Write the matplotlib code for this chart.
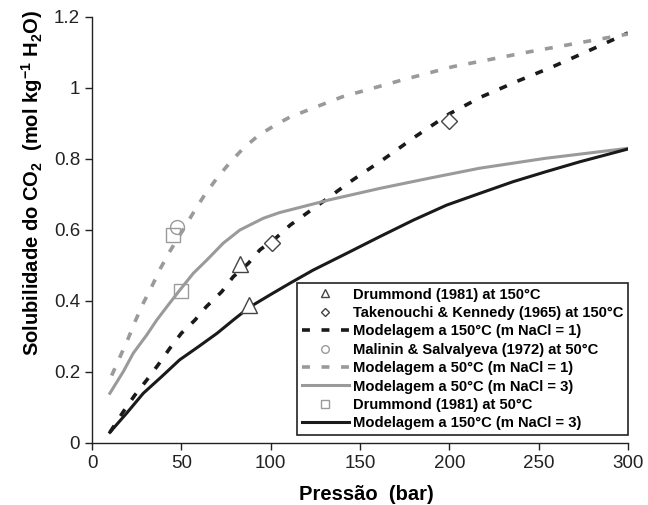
import matplotlib.pyplot as plt
from matplotlib.ticker import FormatStrFormatter

plt.rcParams['font.family'] = ['Liberation Sans', 'DejaVu Sans']
plt.rcParams['mathtext.fontset'] = 'custom'
plt.rcParams['mathtext.rm'] = 'Liberation Sans:bold'
plt.rcParams['mathtext.default'] = 'rm'

# curvas do modelo
p_50_n1 = [11, 15.7, 20.3, 24.1, 28.7, 33.4, 38.1, 43.6, 52, 57.6, 63.2, 69.8, 77.2, 84.7,
           93.1, 102.4, 110.8, 140, 174, 202, 245, 300]
s_50_n1 = [0.19, 0.243, 0.295, 0.342, 0.394, 0.44, 0.49, 0.54, 0.609, 0.656, 0.70, 0.745,
           0.79, 0.83, 0.866, 0.895, 0.918, 0.975, 1.023, 1.06, 1.102, 1.152]

p_50_n3 = [10, 17.5, 23.1, 30.6, 36.2, 42.7, 49.2, 56.7, 64.2, 73.5, 82.8, 95.9, 105,
           133, 161, 189, 217, 254, 300]
s_50_n3 = [0.14, 0.201, 0.253, 0.304, 0.346, 0.389, 0.431, 0.478, 0.515, 0.563, 0.60, 0.633,
           0.649, 0.685, 0.717, 0.746, 0.774, 0.802, 0.83]

p_150_n1 = [10, 17.5, 24, 30.6, 37, 43.6, 50, 57.6, 64, 72.6, 79, 87.5, 94, 103.3, 111,
            128.5, 146, 164, 181, 200, 218, 237.6, 258, 276.8, 300]
s_150_n1 = [0.03, 0.088, 0.135, 0.177, 0.22, 0.267, 0.309, 0.346, 0.384, 0.426, 0.468, 0.506,
            0.544, 0.579, 0.614, 0.677, 0.741, 0.802, 0.863, 0.927, 0.975, 1.018, 1.06,
            1.102, 1.155]

p_150_n3 = [10, 19.4, 28.7, 39, 49, 59.5, 70, 79, 88, 99.6, 110.8, 123.8, 142.5, 161, 180,
            198.5, 217, 235.7, 254, 273, 300]
s_150_n3 = [0.03, 0.084, 0.14, 0.187, 0.234, 0.271, 0.309, 0.346, 0.382, 0.417, 0.45, 0.487,
            0.534, 0.581, 0.628, 0.67, 0.703, 0.736, 0.764, 0.792, 0.828]

# dados experimentais
drum150_p = [82.8, 88]
drum150_s = [0.504, 0.39]
take_p = [101, 200]
take_s = [0.564, 0.907]
malinin_p = [47.7]
malinin_s = [0.608]
drum50_p = [45.5, 49.6]
drum50_s = [0.586, 0.429]

gray = '#9a9a9a'
black = '#1a1a1a'
dash = (0, (2.2, 3.2))

fig = plt.figure(figsize=(6.48, 5.05), dpi=100)
ax = fig.add_axes([0.142, 0.1228, 0.827, 0.8436])

ax.plot(drum150_p, drum150_s, linestyle='none', marker='^', ms=11, mfc='white',
        mec='#444444', mew=1.0, label='Drummond (1981) at 150°C', zorder=4)
ax.plot(take_p, take_s, linestyle='none', marker='D', ms=8, mfc='white',
        mec='#444444', mew=1.0, label='Takenouchi & Kennedy (1965) at 150°C', zorder=4)
ax.plot(p_150_n1, s_150_n1, color=black, lw=2.6, linestyle=dash,
        label='Modelagem a 150°C (m NaCl = 1)')
ax.plot(malinin_p, malinin_s, linestyle='none', marker='o', ms=10, mfc='none',
        mec=gray, mew=1.0, label='Malinin & Salvalyeva (1972) at 50°C', zorder=4)
ax.plot(p_50_n1, s_50_n1, color=gray, lw=2.6, linestyle=dash,
        label='Modelagem a 50°C (m NaCl = 1)')
ax.plot(p_50_n3, s_50_n3, color=gray, lw=2.2, label='Modelagem a 50°C (m NaCl = 3)')
ax.plot(drum50_p, drum50_s, linestyle='none', marker='s', ms=10, mfc='none',
        mec=gray, mew=1.0, label='Drummond (1981) at 50°C', zorder=4)
ax.plot(p_150_n3, s_150_n3, color=black, lw=2.2, label='Modelagem a 150°C (m NaCl = 3)')

ax.set_xlim(0, 300)
ax.set_ylim(0, 1.2)
ax.set_xticks(range(0, 301, 50))
ax.set_yticks([0, 0.2, 0.4, 0.6, 0.8, 1.0, 1.2])
ax.yaxis.set_major_formatter(FormatStrFormatter('%g'))
ax.tick_params(direction='out', length=5, width=1, labelsize=13.5, colors='#222222')
ax.spines['top'].set_visible(False)
ax.spines['right'].set_visible(False)
for s in ['left', 'bottom']:
    ax.spines[s].set_linewidth(1)
    ax.spines[s].set_color('#222222')

leg = ax.legend(loc='lower right', bbox_to_anchor=(1.0, 0.019), fancybox=False,
                edgecolor='#222222', framealpha=1, prop={'weight': 'bold', 'size': 10.6},
                markerscale=0.55, handlelength=3.2, handletextpad=0.3,
                labelspacing=0.3, borderpad=0.3, borderaxespad=0)
leg.get_frame().set_linewidth(1.2)

fig.text(366 / 648, 1 - 494 / 505, 'Pressão  (bar)', ha='center', va='center',
         fontsize=14.5, fontweight='bold')
fig.text(32 / 648, 1 - 183 / 505, r'Solubilidade do CO$_2$  (mol kg$^{-1}$ H$_2$O)',
         ha='center', va='center', rotation=90, fontsize=14.5, fontweight='bold')

fig.savefig('out.png', dpi=100)
